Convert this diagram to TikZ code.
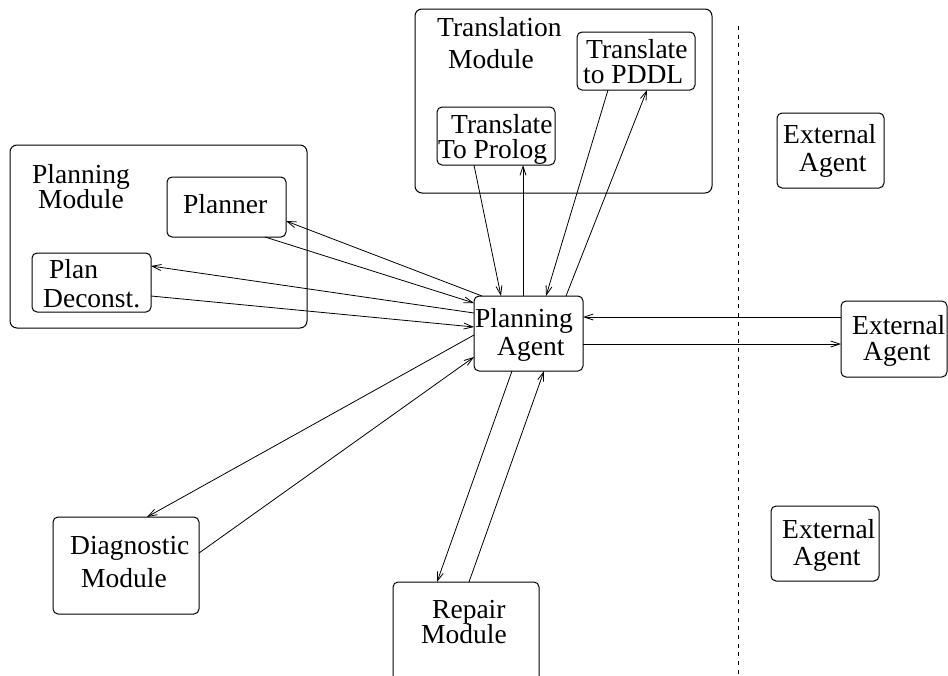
\documentclass[tikz,border=0pt]{standalone}
\usepackage{fontspec}
\setmainfont{Liberation Serif}
\usetikzlibrary{arrows.meta,fit}
\begin{document}
\begin{tikzpicture}[x=1pt,y=-1pt,
  box/.style={draw,line width=1pt,rounded corners=5pt,inner sep=0pt,outer sep=0pt},
  modbox/.style={draw,line width=1pt,rounded corners=7pt,inner sep=0pt,outer sep=0pt},
  txt/.style={inner sep=0pt,anchor=base west,font=\fontsize{27.5}{28}\selectfont},
  conn/.style={line width=0.8pt,-{Straight Barb[length=9pt,width=6pt]}},
  divider/.style={line width=0.9pt,dash pattern=on 4pt off 4.7pt}]
\useasboundingbox (0,0) rectangle (948,675);
\clip (0,0) rectangle (948,675);
% boxes
\node[modbox,fit={(10,145) (307,328)}] (planmod) {};
\node[box,fit={(167,177) (286,237)}] (planner) {};
\node[box,fit={(32,253) (151,312)}] (plandec) {};
\node[modbox,fit={(415,9) (712,193)}] (transmod) {};
\node[box,fit={(577,32) (695,90)}] (tpddl) {};
\node[box,fit={(437,107) (555,165)}] (tprolog) {};
\node[box,fit={(474,296) (583,371)}] (pa) {};
\node[box,fit={(777,113) (884,188)}] (ext1) {};
\node[box,fit={(841,301) (947,377)}] (ext2) {};
\node[box,fit={(771,506) (879,581)}] (ext3) {};
\node[box,fit={(53,517) (199,614)}] (diag) {};
\node[box,fit={(393,582) (539,700)}] (repair) {};
% texts
\node[txt] (planmod-a) at (32,183) {Planning};
\node[txt] (planmod-b) at (38,208) {Module};
\node[txt] (planner-a) at (183,213) {Planner};
\node[txt] (plandec-a) at (49,278) {Plan};
\node[txt] (plandec-b) at (43,307) {Deconst.};
\node[txt] (transmod-a) at (437,36) {Translation};
\node[txt] (transmod-b) at (448,68) {Module};
\node[txt] (tpddl-a) at (586,58) {Translate};
\node[txt] (tpddl-b) at (583,83) {to PDDL};
\node[txt,text depth=0pt] (tprolog-a) at (451,133.5) {Translate};
\node[txt,text height=19pt] (tprolog-b) at (438,158) {To Prolog};
\node[txt] (pa-a) at (475,327) {Planning};
\node[txt] (pa-b) at (497,355) {Agent};
\node[txt] (ext1-a) at (783,143) {External};
\node[txt] (ext1-b) at (799,171) {Agent};
\node[txt] (ext2-a) at (852,334) {External};
\node[txt] (ext2-b) at (863,360) {Agent};
\node[txt] (ext3-a) at (782,538) {External};
\node[txt] (ext3-b) at (793,565) {Agent};
\node[txt] (diag-a) at (70,554) {Diagnostic};
\node[txt] (diag-b) at (81,587) {Module};
\node[txt] (repair-a) at (432,618) {Repair};
\node[txt] (repair-b) at (421,643) {Module};
% connectors
\draw[conn] (482,0 |- pa.north) -- (planner.east |- 0,221);
\draw[conn] (265,0 |- planner.south) -- (pa.west |- 0,303);
\draw[conn] (pa.west |- 0,313) -- (plandec.east |- 0,266);
\draw[conn] (plandec.east |- 0,296) -- (pa.west |- 0,327);
\draw[conn] (pa.west |- 0,335) -- (147,0 |- diag.north);
\draw[conn] (diag.east |- 0,553) -- (pa.west |- 0,357);
\draw[conn] (512,0 |- pa.south) -- (437,0 |- repair.north);
\draw[conn] (469,0 |- repair.north) -- (544,0 |- pa.south);
\draw[conn] (ext2.west |- 0,317) -- (pa.east |- 0,317);
\draw[conn] (pa.east |- 0,344) -- (ext2.west |- 0,344);
\draw[conn] (474,0 |- tprolog.south) -- (501,0 |- pa.north);
\draw[conn] (523,0 |- pa.north) -- (523,0 |- tprolog.south);
\draw[conn] (608,0 |- tpddl.south) -- (546,0 |- pa.north);
\draw[conn] (566,0 |- pa.north) -- (647,0 |- tpddl.south);
% divider
\coordinate (dtop) at (738.5,26);
\coordinate (dbot) at (738.5,675);
\draw[divider] (dtop) -- (dbot);
\end{tikzpicture}
\end{document}
